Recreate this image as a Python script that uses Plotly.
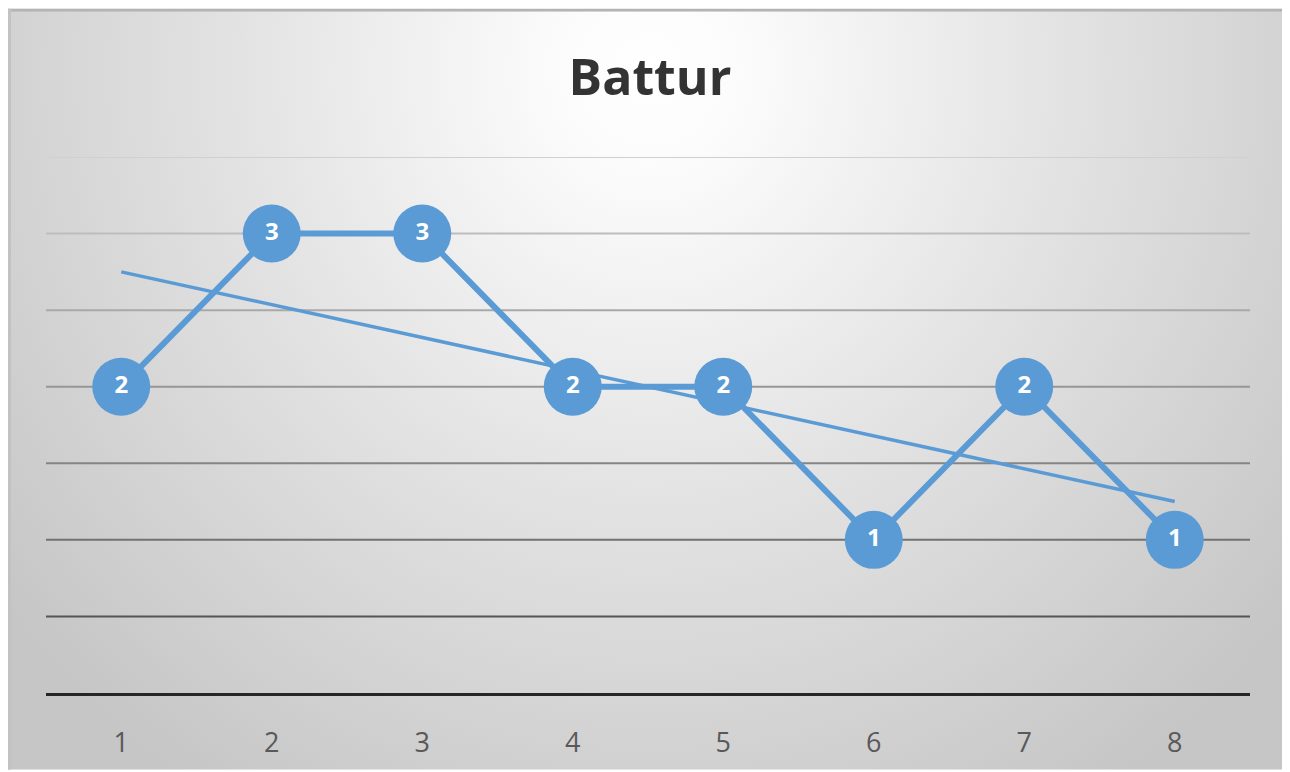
import base64
import numpy as np
import plotly.graph_objects as go

# ---- data ----
categories = ["1", "2", "3", "4", "5", "6", "7", "8"]
values = [2, 3, 3, 2, 2, 1, 2, 1]
grid_values = [0.5, 1.0, 1.5, 2.0, 2.5, 3.0, 3.5]
grid_colors = ["#555555", "#727272", "#858585", "#969696", "#a9a9a9", "#bdbdbd", "#d0d0d0"]
title_text = "Battur"

# linear trendline (least squares over category index)
idx = np.arange(1, len(values) + 1)
slope, intercept = np.polyfit(idx, values, 1)
trend = slope * idx + intercept

# page body has an 8px margin, so the figure is laid out in coordinates offset by 8
OFF = 8
W, H = 1290 - OFF, 772 - OFF
L, R, T, B = 46 - OFF, 40, 157 - OFF, 77
pw, ph = W - L - R, H - T - B

# radial gradient background (as svg image)
bw, bh = W, H
cx, cy = 650 - OFF, 70 - OFF
svg = f'''<svg xmlns="http://www.w3.org/2000/svg" width="{bw}" height="{bh}" viewBox="0 0 {bw} {bh}" preserveAspectRatio="none">
<defs><radialGradient id="g" gradientUnits="userSpaceOnUse" cx="{cx}" cy="{cy}" r="820"
 gradientTransform="translate({cx} {cy}) scale(1 1.05) translate({-cx} {-cy})">
<stop offset="0" stop-color="#ffffff"/>
<stop offset="0.12" stop-color="#fbfbfb"/>
<stop offset="0.5" stop-color="#e3e3e3"/>
<stop offset="1" stop-color="#c6c6c6"/>
</radialGradient></defs>
<rect x="0" y="0" width="{bw}" height="{bh}" fill="url(#g)"/>
<rect x="0" y="0" width="{bw}" height="3" fill="#b4b4b4"/>
<rect x="0" y="0" width="3" height="{bh}" fill="#c2c2c2"/>
</svg>'''
src = "data:image/svg+xml;base64," + base64.b64encode(svg.encode()).decode()

fig = go.Figure()
blue = "#5B9BD5"
fig.add_trace(go.Scatter(x=categories, y=values, mode="lines",
                         line=dict(color=blue, width=6), hoverinfo="skip"))
fig.add_trace(go.Scatter(x=categories, y=trend, mode="lines",
                         line=dict(color=blue, width=3.5), hoverinfo="skip"))
fig.add_trace(go.Scatter(x=categories, y=values, mode="markers+text",
                         marker=dict(color=blue, size=58, line=dict(width=0)),
                         text=[str(v) for v in values], textposition="middle center",
                         textfont=dict(family="Open Sans", size=24, color="white", weight="bold"),
                         cliponaxis=False))

for gv, gc in zip(grid_values, grid_colors):
    fig.add_shape(type="line", xref="paper", x0=0, x1=1, yref="y", y0=gv, y1=gv,
                  line=dict(color=gc, width=2), layer="below")

fig.add_layout_image(dict(source=src, xref="paper", yref="paper",
                          x=-L / pw, y=(H - B) / ph,
                          sizex=bw / pw, sizey=bh / ph,
                          xanchor="left", yanchor="top", sizing="stretch", layer="below"))

fig.update_layout(
    width=W, height=H,
    margin=dict(l=L, r=R, t=T, b=B),
    paper_bgcolor="white", plot_bgcolor="rgba(0,0,0,0)",
    showlegend=False,
    title=dict(text=title_text, x=(650 - OFF) / W, xanchor="center", xref="container",
               y=1 - (77 - OFF) / H, yanchor="middle", yref="container",
               font=dict(family="Open Sans", size=50, color="#333333", weight="bold")),
)
fig.update_xaxes(type="category", range=[-0.5, 7.5], showgrid=False, zeroline=False,
                 showline=True, linecolor="#262626", linewidth=3, ticks="",
                 tickfont=dict(family="Open Sans", size=27, color="#595959"),
                 ticklabelstandoff=24)
fig.update_yaxes(range=[0, 3.5], showgrid=False, zeroline=False, showticklabels=False,
                 showline=False, ticks="")

fig.write_html("out.html")
